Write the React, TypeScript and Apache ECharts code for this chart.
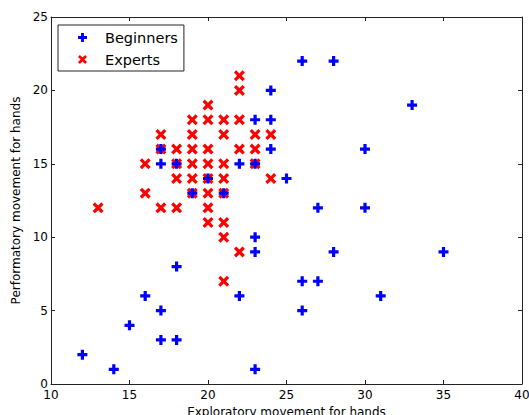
import React, { useEffect, useRef } from "react";
import * as echarts from "echarts";

const beginners: [number, number][] = [
  [12, 2], [14, 1], [15, 4], [16, 6], [17, 5], [17, 3], [18, 3], [18, 8],
  [17, 16], [17, 15], [18, 15], [19, 13], [20, 14], [21, 13], [22, 15],
  [23, 18], [24, 18], [24, 20], [24, 16], [23, 15], [25, 14], [26, 22],
  [28, 22], [33, 19], [30, 16], [27, 12], [30, 12], [28, 9], [26, 7],
  [27, 7], [26, 5], [31, 6], [35, 9], [23, 10], [23, 9], [22, 6], [23, 1],
];

const experts: [number, number][] = [
  [13, 12], [16, 15], [16, 13], [17, 17], [17, 16], [17, 12], [18, 16],
  [18, 15], [18, 14], [18, 12], [19, 18], [19, 17], [19, 16], [19, 15],
  [19, 14], [19, 13], [20, 19], [20, 18], [20, 16], [20, 15], [20, 14],
  [20, 13], [20, 12], [20, 11], [21, 18], [21, 17], [21, 15], [21, 14],
  [21, 13], [21, 11], [21, 10], [21, 7], [22, 21], [22, 20], [22, 18],
  [22, 16], [22, 9], [23, 17], [23, 16], [23, 15], [24, 17], [24, 14],
];

const seriesNames = ["Beginners", "Experts"];
const xName = "Exploratory movement for hands";
const yName = "Performatory movement for hands";

const PLUS =
  "path://M-1.6,-5L1.6,-5L1.6,-1.6L5,-1.6L5,1.6L1.6,1.6L1.6,5L-1.6,5L-1.6,1.6L-5,1.6L-5,-1.6L-1.6,-1.6Z";
const d = 2.1;
const CROSS = `path://M-5,${-5 + d}L${-5 + d},-5L0,${-d}L${5 - d},-5L5,${-5 + d}L${d},0L5,${5 - d}L${5 - d},5L0,${d}L${-5 + d},5L-5,${5 - d}L${-d},0Z`;

const FONT = "DejaVu Sans";

export default function App() {
  const ref = useRef<HTMLDivElement>(null);
  useEffect(() => {
    if (!ref.current) return;
    const chart = echarts.init(ref.current, null, { renderer: "svg" });
    const axisCommon = {
      min: 10,
      max: 40,
      interval: 5,
    };
    const lineStyle = { color: "#222", width: 1 };
    chart.setOption({
      animation: false,
      backgroundColor: "#fff",
      textStyle: { fontFamily: FONT },
      grid: {
        left: 51,
        top: 17,
        width: 471,
        height: 367,
        show: false,
        containLabel: false,
        outerBoundsMode: "none",
      },
      legend: {
        orient: "vertical",
        left: 58,
        top: 25,
        padding: [4, 6, 3, 20],
        itemGap: 5,
        itemWidth: 9,
        itemHeight: 9,
        borderColor: "#222",
        borderWidth: 1,
        borderRadius: 0,
        textStyle: {
          fontFamily: FONT,
          fontSize: 14.5,
          color: "#000",
          lineHeight: 17,
          padding: [0, 0, 0, 13],
        },
        data: [
          { name: seriesNames[0], icon: PLUS },
          { name: seriesNames[1], icon: CROSS },
        ],
      },
      xAxis: [
        {
          type: "value",
          ...axisCommon,
          position: "bottom",
          name: xName,
          nameLocation: "middle",
          nameGap: 20,
          nameTextStyle: { fontFamily: FONT, fontSize: 12, color: "#000" },
          axisLine: { show: true, onZero: false, lineStyle },
          axisTick: { show: true, inside: true, length: 4, lineStyle },
          axisLabel: { fontFamily: FONT, fontSize: 12, color: "#000", margin: 5 },
          splitLine: { show: false },
        },
        {
          type: "value",
          ...axisCommon,
          position: "top",
          axisLine: { show: true, onZero: false, lineStyle },
          axisTick: { show: true, inside: true, length: 4, lineStyle },
          axisLabel: { show: false },
          splitLine: { show: false },
        },
      ],
      yAxis: [
        {
          type: "value",
          min: 0,
          max: 25,
          interval: 5,
          position: "left",
          name: yName,
          nameLocation: "middle",
          nameGap: 22,
          nameTextStyle: { fontFamily: FONT, fontSize: 12, color: "#000" },
          axisLine: { show: true, onZero: false, lineStyle },
          axisTick: { show: true, inside: true, length: 4, lineStyle },
          axisLabel: { fontFamily: FONT, fontSize: 12, color: "#000", margin: 3 },
          splitLine: { show: false },
        },
        {
          type: "value",
          min: 0,
          max: 25,
          interval: 5,
          position: "right",
          axisLine: { show: true, onZero: false, lineStyle },
          axisTick: { show: true, inside: true, length: 4, lineStyle },
          axisLabel: { show: false },
          splitLine: { show: false },
        },
      ],
      series: [
        {
          name: seriesNames[1],
          type: "scatter",
          xAxisIndex: 0,
          yAxisIndex: 0,
          symbol: CROSS,
          symbolSize: 11,
          itemStyle: { color: "#ff0000", opacity: 1 },
          data: experts,
          z: 2,
        },
        {
          name: seriesNames[0],
          type: "scatter",
          xAxisIndex: 0,
          yAxisIndex: 0,
          symbol: PLUS,
          symbolSize: 10,
          itemStyle: { color: "#0000ff", opacity: 1 },
          data: beginners,
          z: 3,
        },
      ],
    });
    return () => chart.dispose();
  }, []);
  return (
    <div
      ref={ref}
      style={{ position: "fixed", left: 0, top: 0, width: 529, height: 415 }}
    />
  );
}
